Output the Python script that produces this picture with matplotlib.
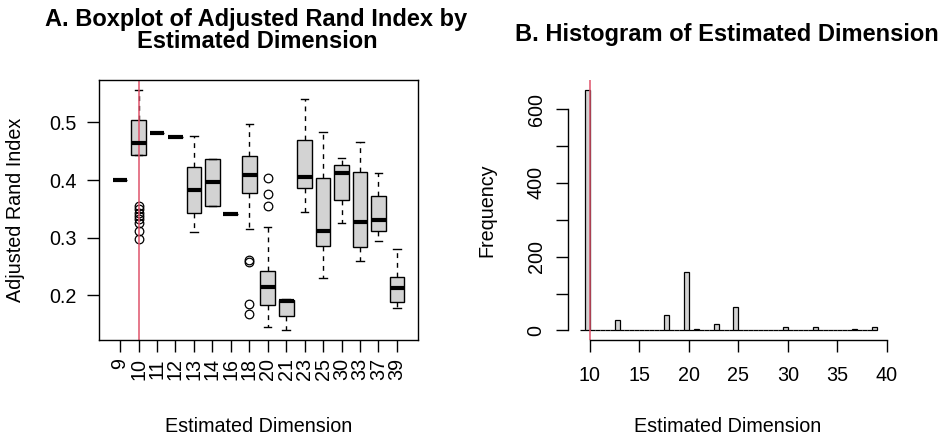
import numpy as np
import matplotlib
matplotlib.use("Agg")
import matplotlib.pyplot as plt

plt.rcParams["font.family"] = ["Liberation Sans", "DejaVu Sans"]

W, H = 941, 438
FS = 14.2
FS_MAIN = 17
BOX_FILL = "#D3D3D3"
REF_COL = "#DF536B"

# estimated dimension per group and ARI summaries (five-number style)
dims = [9, 10, 11, 12, 13, 14, 16, 18, 20, 21, 23, 25, 30, 33, 37, 39]
ari_med = [0.400, 0.465, 0.482, 0.474, 0.383, 0.396, 0.341, 0.408,
           0.215, 0.190, 0.406, 0.312, 0.413, 0.328, 0.331, 0.212]
ari_q1 = [0.400, 0.444, 0.482, 0.474, 0.342, 0.355, 0.341, 0.378,
          0.183, 0.164, 0.386, 0.286, 0.365, 0.284, 0.312, 0.188]
ari_q3 = [0.400, 0.505, 0.482, 0.474, 0.423, 0.437, 0.341, 0.442,
          0.242, 0.192, 0.470, 0.403, 0.427, 0.414, 0.372, 0.231]
ari_lo = [0.400, 0.444, 0.482, 0.474, 0.310, 0.355, 0.341, 0.315,
          0.145, 0.139, 0.345, 0.230, 0.325, 0.260, 0.294, 0.178]
ari_hi = [0.400, 0.557, 0.482, 0.474, 0.476, 0.437, 0.341, 0.497,
          0.319, 0.193, 0.540, 0.483, 0.439, 0.466, 0.413, 0.280]
ari_out = {
    10: [0.355, 0.349, 0.343, 0.337, 0.332, 0.325, 0.312, 0.298],
    18: [0.262, 0.257, 0.185, 0.168],
    20: [0.403, 0.375, 0.355],
}

# number of runs giving each estimated dimension
dim_counts = [1, 653, 2, 2, 28, 2, 2, 43, 157, 3, 17, 64, 10, 8, 4, 8]
true_dim = 10


def px_rect(x0, y0, x1, y1):
    return [x0 / W, 1 - y1 / H, (x1 - x0) / W, (y1 - y0) / H]


def fig_text(x, y, s, **kw):
    fig.text(x / W, 1 - y / H, s, **kw)


fig = plt.figure(figsize=(W / 100, H / 100), dpi=100)

# ---- A: boxplot ----
ax1 = fig.add_axes(px_rect(99, 80, 418, 340))
stats = []
for i, d in enumerate(dims):
    stats.append(dict(med=ari_med[i], q1=ari_q1[i], q3=ari_q3[i],
                      whislo=ari_lo[i], whishi=ari_hi[i],
                      fliers=ari_out.get(d, [])))
pos = np.arange(1, len(dims) + 1)
ax1.bxp(stats, positions=pos, widths=0.8, capwidths=0.4, patch_artist=True,
        boxprops=dict(facecolor=BOX_FILL, edgecolor="black", linewidth=1.0),
        medianprops=dict(color="black", linewidth=3, solid_capstyle="butt"),
        whiskerprops=dict(color="black", linewidth=1.0, linestyle=(0, (3.5, 3.5))),
        capprops=dict(color="black", linewidth=1.0),
        flierprops=dict(marker="o", markerfacecolor="none", markeredgecolor="black",
                        markersize=6.2, markeredgewidth=0.9))
n = len(dims)
ax1.set_xlim(0.5 - 0.04 * n, n + 0.5 + 0.04 * n)
lo = min(min(ari_lo), min(min(v) for v in ari_out.values()))
hi = max(ari_hi)
ext = 0.04 * (hi - lo)
ax1.set_ylim(lo - ext, hi + ext)
ax1.axvline(pos[dims.index(true_dim)], color=REF_COL, linewidth=1.1)
ax1.set_xticks(pos)
ax1.set_xticklabels([str(d) for d in dims])
ax1.set_yticks([0.2, 0.3, 0.4, 0.5])
ax1.set_yticklabels(["0.2", "0.3", "0.4", "0.5"])
ax1.tick_params(axis="x", labelrotation=90, length=8.6, width=1, pad=4.5, labelsize=FS)
ax1.tick_params(axis="y", length=8.6, width=1, pad=7.5, labelsize=FS)
for sp in ax1.spines.values():
    sp.set_linewidth(1.0)

# ---- B: histogram (R style right-closed bins of width 0.5) ----
ax2 = fig.add_axes(px_rect(568, 80, 889, 340))
edges = np.arange(9, 39.01, 0.5)
bin_idx = np.clip(np.searchsorted(edges, dims, side="left") - 1, 0, len(edges) - 2)
freq = np.zeros(len(edges) - 1)
np.add.at(freq, bin_idx, dim_counts)
ax2.bar(edges[:-1], freq, width=0.5, align="edge", color=BOX_FILL,
        edgecolor="black", linewidth=0.9)
xr = edges[-1] - edges[0]
ax2.set_xlim(edges[0] - 0.04 * xr, edges[-1] + 0.04 * xr)
ax2.set_ylim(-0.04 * freq.max(), freq.max() * 1.04)
ax2.axvline(true_dim, color=REF_COL, linewidth=1.1)
ax2.set_xticks([10, 15, 20, 25, 30, 35, 40])
ax2.set_yticks(np.arange(0, 700, 100))
ax2.set_yticklabels(["0", "", "200", "", "400", "", "600"])
ax2.tick_params(axis="x", length=8.6, width=1, pad=10, labelsize=FS)
ax2.tick_params(axis="y", labelrotation=90, length=8.6, width=1, pad=7.5, labelsize=FS)
for lab in ax2.get_yticklabels():
    lab.set_va("center")
ax2.spines["top"].set_visible(False)
ax2.spines["right"].set_visible(False)
ax2.spines["left"].set_bounds(0, 600)
ax2.spines["bottom"].set_bounds(10, 40)
ax2.spines["left"].set_linewidth(1.0)
ax2.spines["bottom"].set_linewidth(1.0)

# ---- titles and axis labels ----
fig_text(256, 26, "A. Boxplot of Adjusted Rand Index by", ha="center",
         va="baseline", fontsize=FS_MAIN, fontweight="bold")
fig_text(257, 48, "Estimated Dimension", ha="center", va="baseline",
         fontsize=FS_MAIN, fontweight="bold")
fig_text(727, 41, "B. Histogram of Estimated Dimension", ha="center",
         va="baseline", fontsize=FS_MAIN, fontweight="bold")
fig_text(259, 432, "Estimated Dimension", ha="center", va="baseline", fontsize=FS)
fig_text(728, 432, "Estimated Dimension", ha="center", va="baseline", fontsize=FS)
fig_text(16, 210, "Adjusted Rand Index", ha="center", va="center",
         rotation=90, fontsize=FS)
fig_text(487, 210, "Frequency", ha="center", va="center", rotation=90, fontsize=FS)

fig.savefig("out.png", dpi=100)
